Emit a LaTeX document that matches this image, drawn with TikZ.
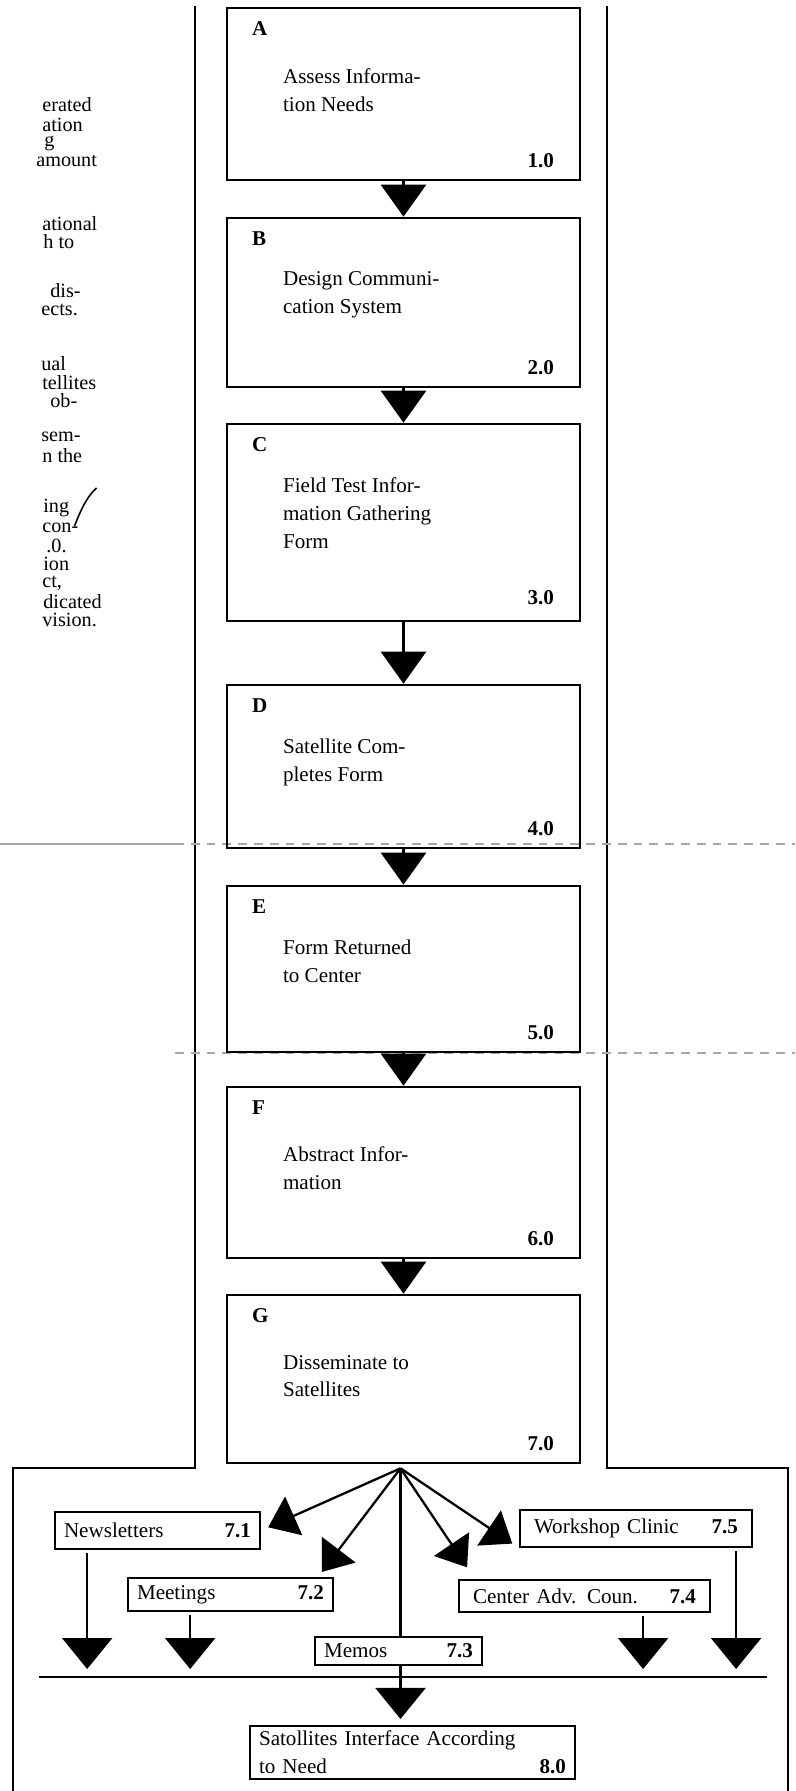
\documentclass[tikz,border=0pt]{standalone}
\usepackage{fontspec}
\setmainfont{Liberation Serif}
\usetikzlibrary{arrows.meta, positioning, calc}

\begin{document}
\begin{tikzpicture}[
  x=0.02cm, y=-0.02cm,
  >={Triangle[length=0.64cm, width=0.9cm]},
  procbox/.style={draw, line width=1.5pt, minimum width=7.06cm, inner sep=0pt},
  boxid/.style={font=\bfseries\fontsize{12}{14}\selectfont, anchor=west, inner sep=0pt},
  boxtxt/.style={font=\fontsize{12}{15.9}\selectfont, align=left,
    anchor=north west, inner sep=0pt},
  boxno/.style={font=\bfseries\fontsize{12}{14}\selectfont, anchor=east, inner sep=0pt},
  subbox/.style={draw, line width=1.2pt, inner xsep=5pt, inner ysep=0pt,
    font=\fontsize{12}{15.9}\selectfont, align=left},
  flow/.style={->, line width=1.5pt},
  fanarr/.style={-{Triangle[length=0.56cm, width=0.84cm]}, line width=1.3pt},
  drop/.style={-{Triangle[length=0.62cm, width=1cm]}, line width=1.3pt},
  frame/.style={line width=1.3pt},
  colfrag/.style={font=\fontsize{11.5}{13}\selectfont, anchor=west, inner sep=0pt},
  scanline/.style={gray!70, line width=0.6pt, dash pattern=on 5pt off 4pt},
]

\useasboundingbox (0,0) rectangle (795,1791);

% Frame round the column and the bottom panel
\draw[frame] (195,6) -- (195,1468) -- (13,1468) -- (13,1791);
\draw[frame] (607,6) -- (607,1468) -- (788,1468) -- (788,1791);

% scan marks
\draw[gray!70, line width=0.6pt] (0,844) -- (175,844);
\draw[scanline] (175,844) -- (795,844);
\draw[scanline] (175,1053) -- (795,1053);

% =============================================
% Cut-off text column on the left
% =============================================
\foreach \t/\x/\y [count=\i] in {erated/42/105, ation/42/124.5, g/44/143,
    amount/36/161, ational/42/224, h to/43/242, dis-/50/291, ects./41/309.5,
    ual/41/364, tellites/42/383, ob-/50/401, sem-/41/437, n the/42/456,
    ing/43/508, con-/42/528, .0./46/546, ion/43/564, {ct,}/42/583.5,
    dicated/43/602, vision./42/620}
  \node[colfrag] (frag-\i) at (\x,\y) {\t};

\draw[line width=0.9pt] (frag-14.east) ++(5,18) .. controls ($(frag-14.east)+(12,0)$)
  and ($(frag-14.east)+(18,-12)$) .. ($(frag-14.east)+(27,-20)$);

% =============================================
% Main chain: A -- G
% =============================================
\foreach \n/\cy/\h/\dt/\dn/\txt/\num in {
    A/94/172/62/21/{Assess Informa-\\tion Needs}/1.0,
    B/302.5/169/55/21/{Design Communi-\\cation System}/2.0,
    C/522.5/197/55/25/{Field Test Infor-\\mation Gathering\\Form}/3.0,
    D/766.5/163/55/21/{Satellite Com-\\pletes Form}/4.0,
    E/969/166/55/21/{Form Returned\\to Center}/5.0,
    F/1172.5/171/61/21/{Abstract Infor-\\mation}/6.0,
    G/1379/168/61/21/{Disseminate to\\Satellites}/7.0}
{
  \node[procbox, minimum height=\h*0.02cm] (\n) at (403.5,\cy) {};
  \node[boxid] (\n-id) at ($(\n.north west)+(26,22)$) {\n};
  \node[boxtxt] (\n-txt) at ($(\n.north west)+(57,\dt)$) {\txt};
  \node[boxno] (\n-no) at ($(\n.south east)+(-27,-\dn)$) {\num};
}

\foreach \a/\b in {A/B, B/C, C/D, D/E, E/F, F/G}
  \draw[flow] (\a) -- (\b);

% =============================================
% Bottom panel: ways of dissemination
% =============================================
\node[subbox, text width=3.74cm, minimum height=0.74cm] (news) at (157.5,1530.5)
  {Newsletters\hfill\textbf{7.1}};
\node[subbox, text width=3.74cm, minimum height=0.66cm] (meet) at (230.5,1594.5)
  {Meetings\hfill\textbf{7.2}};
\node[subbox, text width=2.98cm, minimum height=0.56cm] (memo) at (398.5,1651)
  {Memos\hfill\textbf{7.3}};
\node[subbox, inner xsep=8pt, text width=4.46cm, minimum height=0.64cm] (cadv) at (584.5,1596)
  {Center Adv. Coun.\hfill\textbf{7.4}};
\node[subbox, inner xsep=8pt, text width=4.08cm, minimum height=0.74cm] (ws) at (636,1528.5)
  {Workshop Clinic\hfill\textbf{7.5}};
\node[subbox, text width=6.14cm, minimum height=1.06cm] (final) at (412.5,1752.5)
  {Satollites Interface According\\to Need\hfill\textbf{8.0}};

% fan out of G
\coordinate (fan) at ($(G.south)+(-3,4)$);
\draw[fanarr, shorten >=0.16cm] (fan) -- (news.east);
\draw[fanarr] (fan) -- ($(meet.north east)+(-12,-5)$);
\draw[line width=1.3pt] (fan) -- (fan |- memo.north);
\draw[fanarr, shorten >=0.28cm] (fan) -- ($(cadv.north west)+(17,0)$);
\draw[fanarr, shorten >=0.16cm] (fan) -- (ws.south west);

% collecting line
\coordinate (busL) at (39,1677);
\coordinate (busR) at (767,1677);
\draw[line width=1.3pt] (busL) -- (busR);

\coordinate (news-d) at ($(news.south west)+(33,3)$);
\coordinate (meet-d) at ($(meet.south west)+(63,3)$);
\coordinate (cadv-d) at ($(cadv.south east)+(-68,3)$);
\coordinate (ws-d) at ($(ws.south east)+(-17,3)$);
\foreach \s in {news-d, meet-d, cadv-d, ws-d}
  \draw[drop, shorten >=0.16cm] (\s) -- (\s |- busL);

% Memos -> interface
\draw[drop, shorten >=0.12cm] (fan |- memo.south) -- (fan |- final.north);

\end{tikzpicture}
\end{document}
